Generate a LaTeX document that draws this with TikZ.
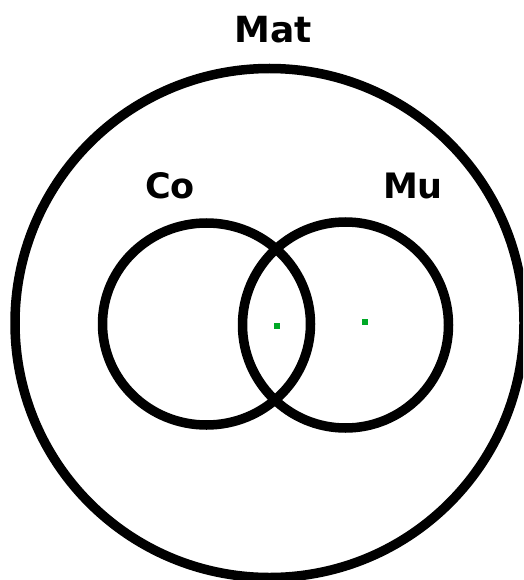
\documentclass[tikz,border=0pt]{standalone}
\usepackage{fontspec}
\setmainfont{DejaVu Sans}
\usetikzlibrary{shapes.geometric}
\begin{document}
\begin{tikzpicture}[x=1pt,y=-1pt,
  ring/.style={draw=black,line width=9.5pt},
  lbl/.style={font=\bfseries\fontsize{35}{35}\selectfont,inner sep=0pt,anchor=base},
  dot/.style={fill=green!60!black!85!cyan,draw=none,minimum size=6pt,inner sep=0pt}]
\useasboundingbox (0,0) rectangle (523,580);
\clip (0,0) rectangle (523,580);
\fill[white] (0,0) rectangle (523,580);
\node[ring,circle,minimum size=509pt,inner sep=0pt] (mat) at (269.5,323) {};
\node[ring,ellipse,minimum width=208pt,minimum height=202pt,inner sep=0pt] (co) at (206.5,324) {};
\node[ring,circle,minimum size=206pt,inner sep=0pt] (mu) at (345.5,325) {};
\node[lbl,font=\bfseries\fontsize{36}{36}\selectfont] (tmat) at (273.5,43) {Mat};
\node[lbl] (tco) at (170,198) {Co};
\node[lbl] (tmu) at (413,198) {Mu};
\node[dot] (d1) at (277,326) {};
\node[dot] (d2) at (365,322) {};
\end{tikzpicture}
\end{document}
